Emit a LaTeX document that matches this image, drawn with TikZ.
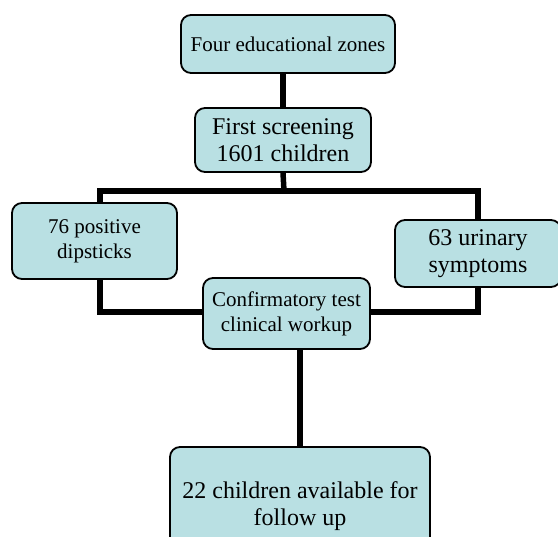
\documentclass[tikz,border=0pt]{standalone}
\usepackage{fontspec}
\setmainfont{Liberation Serif}
\definecolor{boxfill}{RGB}{185,224,227}

\begin{document}
\begin{tikzpicture}[x=1pt, y=-1pt]

        % Styles
        \tikzstyle{box} = [draw=black, line width=1.8pt, rounded corners=10pt, fill=boxfill, align=center, inner sep=0pt]
        \tikzstyle{small} = [font=\fontsize{21}{25}\selectfont]
        \tikzstyle{large} = [font=\fontsize{24}{27}\selectfont]
        \tikzstyle{link} = [draw=black, line width=5.5pt, line join=miter]

        % Page frame
        \useasboundingbox (0,0) rectangle (558,537);

        % Boxes
        \node[box, small, minimum width=214pt, minimum height=58pt] (zones) at (288,44) {Four educational zones};
        \node[box, large, minimum width=176pt, minimum height=64pt] (screen) at (283,140) {First screening\\1601 children};
        \node[box, small, minimum width=165pt, minimum height=76pt] (dip) at (94.5,241) {76 positive\\dipsticks};
        \node[box, large, minimum width=166pt, minimum height=67pt] (sym) at (478,253.5) {63 urinary\\symptoms};
        \node[box, small, minimum width=167pt, minimum height=71pt] (confirm) at (286.5,313.5) {Confirmatory test\\clinical workup};
        \node[box, large, minimum width=260pt, minimum height=118pt] (follow) at (300,506) {22 children available for\\follow up};

        % Bus points
        \coordinate (split) at (284,191);
        \coordinate (lbus) at (100,191);
        \coordinate (rbus) at (478,191);
        \coordinate (ljoin) at (100,312);
        \coordinate (rjoin) at (478,312);

        % Connectors
        \draw[link] (screen.north) -- (screen.north |- zones.south);
        \draw[link] (screen.south) -- (split);
        \draw[link] (lbus |- dip.north) -- (lbus) -- (rbus) -- (rbus |- sym.north);
        \draw[link] (ljoin |- dip.south) -- (ljoin) -- (ljoin -| confirm.west);
        \draw[link] (rjoin |- sym.south) -- (rjoin) -- (rjoin -| confirm.east);
        \draw[link] (follow.north |- confirm.south) -- (follow.north);

\end{tikzpicture}
\end{document}
